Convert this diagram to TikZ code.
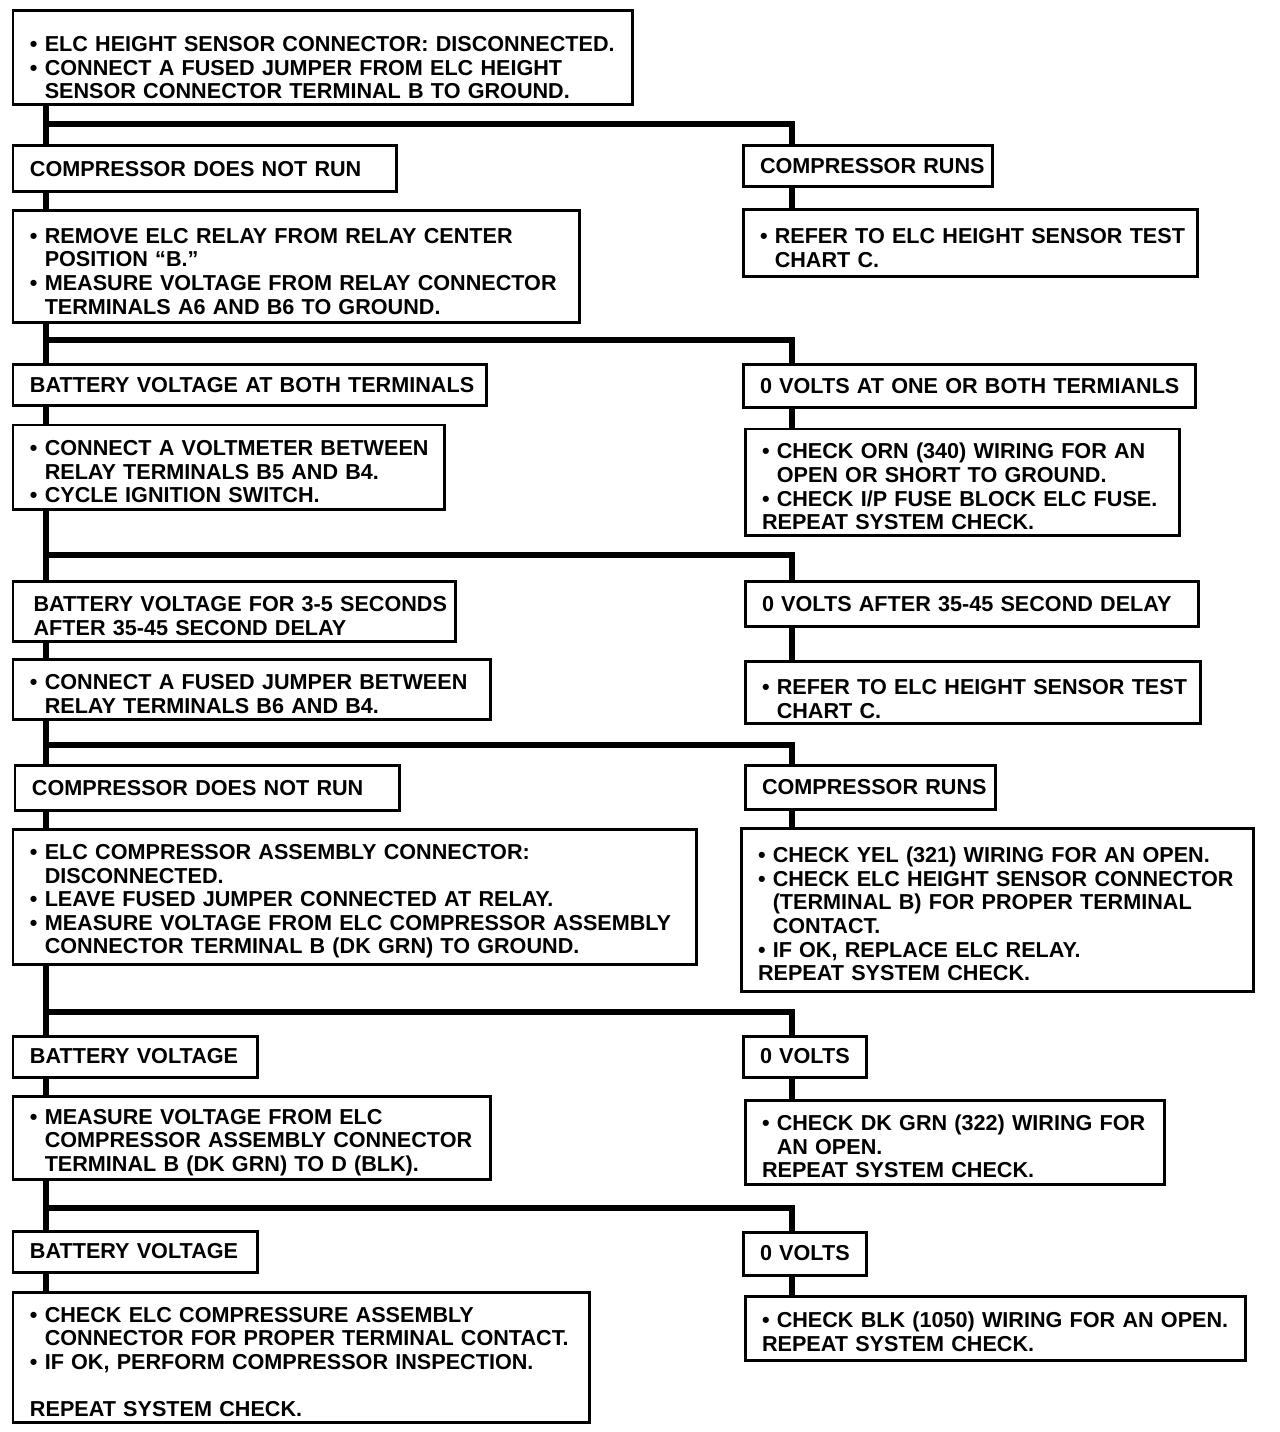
\documentclass[tikz,border=0pt]{standalone}
\usepackage{fontspec}
\setmainfont{Liberation Sans}
\newcommand{\bul}{\textbullet\ }
\newcommand{\bulind}{\hphantom{\textbullet\ }}
\newcommand{\topgap}{\rule{0pt}{13.5pt}}

\begin{document}
\begin{tikzpicture}[x=0.02cm, y=-0.02cm,
    box/.style 2 args={draw, line width=0.06cm, anchor=north west, align=left,
        inner xsep=0.34cm, inner ysep=0pt, text width=#1, minimum height=#2,
        font={\fontsize{12.3}{13.4}\selectfont\bfseries},
        execute at begin node={\rightskip=0pt minus 20cm}},
    wire/.style={line width=0.12cm}]

    \useasboundingbox (0,0) rectangle (1280,1432);

    % Left column
    \node[box={11.72cm}{1.88cm}] (b1) at (11.5,9.5)
        {\rule{0pt}{20pt}\bul ELC HEIGHT SENSOR CONNECTOR: DISCONNECTED.\\
         \bul CONNECT A FUSED JUMPER FROM ELC HEIGHT\\
         \bulind SENSOR CONNECTOR TERMINAL B TO GROUND.};
    \node[box={7.0cm}{0.92cm}] (b2l) at (11.5,144.5) {COMPRESSOR DOES NOT RUN};
    \node[box={10.66cm}{2.24cm}] (b3l) at (11.5,209.5)
        {\topgap\bul REMOVE ELC RELAY FROM RELAY CENTER\\
         \bulind POSITION ``B.''\\
         \bul MEASURE VOLTAGE FROM RELAY CONNECTOR\\
         \bulind TERMINALS A6 AND B6 TO GROUND.};
    \node[box={8.80cm}{0.82cm}] (b4l) at (11.5,363.5) {BATTERY VOLTAGE AT BOTH TERMINALS};
    \node[box={7.96cm}{1.70cm}] (b5l) at (11.5,423.5)
        {\topgap\bul CONNECT A VOLTMETER BETWEEN\\
         \bulind RELAY TERMINALS B5 AND B4.\\
         \bul CYCLE IGNITION SWITCH.};
    \node[box={8.18cm}{1.22cm}] (b6l) at (11.5,579.5)
        {\topgap\,BATTERY VOLTAGE FOR 3-5 SECONDS\\
         \,AFTER 35-45 SECOND DELAY};
    \node[box={8.88cm}{1.22cm}] (b7l) at (11.5,657.5)
        {\topgap\bul CONNECT A FUSED JUMPER BETWEEN\\
         \bulind RELAY TERMINALS B6 AND B4.};
    \node[box={7.02cm}{0.92cm}] (b8l) at (13.5,763.5) {COMPRESSOR DOES NOT RUN};
    \node[box={13.0cm}{2.72cm}] (b9l) at (11.5,827.5)
        {\topgap\bul ELC COMPRESSOR ASSEMBLY CONNECTOR:\\
         \bulind DISCONNECTED.\\
         \bul LEAVE FUSED JUMPER CONNECTED AT RELAY.\\
         \bul MEASURE VOLTAGE FROM ELC COMPRESSOR ASSEMBLY\\
         \bulind CONNECTOR TERMINAL B (DK GRN) TO GROUND.};
    \node[box={4.22cm}{0.82cm}] (b10l) at (11.5,1034.5) {BATTERY VOLTAGE};
    \node[box={8.88cm}{1.68cm}] (b11l) at (11.5,1094.5)
        {\topgap\bul MEASURE VOLTAGE FROM ELC\\
         \bulind COMPRESSOR ASSEMBLY CONNECTOR\\
         \bulind TERMINAL B (DK GRN) TO D (BLK).};
    \node[box={4.22cm}{0.82cm}] (b12l) at (11.5,1229.5) {BATTERY VOLTAGE};
    \node[box={10.86cm}{2.62cm}] (b13l) at (11.5,1290.5)
        {\topgap\bul CHECK ELC COMPRESSURE ASSEMBLY\\
         \bulind CONNECTOR FOR PROPER TERMINAL CONTACT.\\
         \bul IF OK, PERFORM COMPRESSOR INSPECTION.\\[13.4pt]
         REPEAT SYSTEM CHECK.};

    % Right column
    \node[box={4.32cm}{0.82cm}] (b2r) at (741.5,144.5) {COMPRESSOR RUNS};
    \node[box={8.42cm}{1.34cm}] (b3r) at (741.5,208.5)
        {\topgap\bul REFER TO ELC HEIGHT SENSOR TEST\\
         \bulind CHART C.};
    \node[box={8.38cm}{0.86cm}] (b4r) at (741.5,363.5) {0 VOLTS AT ONE OR BOTH TERMIANLS};
    \node[box={8.02cm}{2.14cm}] (b5r) at (743.5,427.5)
        {\topgap\bul CHECK ORN (340) WIRING FOR AN\\
         \bulind OPEN OR SHORT TO GROUND.\\
         \bul CHECK I/P FUSE BLOCK ELC FUSE.\\
         REPEAT SYSTEM CHECK.};
    \node[box={8.40cm}{0.92cm}] (b6r) at (743.5,579.5) {0 VOLTS AFTER 35-45 SECOND DELAY};
    \node[box={8.44cm}{1.26cm}] (b7r) at (743.5,659.5)
        {\rule{0pt}{16pt}\bul REFER TO ELC HEIGHT SENSOR TEST\\
         \bulind CHART C.};
    \node[box={4.34cm}{0.90cm}] (b8r) at (743.5,763.5) {COMPRESSOR RUNS};
    \node[box={9.58cm}{3.28cm}] (b9r) at (739.5,826.5)
        {\topgap\bul CHECK YEL (321) WIRING FOR AN OPEN.\\
         \bul CHECK ELC HEIGHT SENSOR CONNECTOR\\
         \bulind (TERMINAL B) FOR PROPER TERMINAL\\
         \bulind CONTACT.\\
         \bul IF OK, REPLACE ELC RELAY.\\
         REPEAT SYSTEM CHECK.};
    \node[box={1.80cm}{0.82cm}] (b10r) at (741.5,1034.5) {0 VOLTS};
    \node[box={7.72cm}{1.70cm}] (b11r) at (743.5,1098.5)
        {\topgap\bul CHECK DK GRN (322) WIRING FOR\\
         \bulind AN OPEN.\\
         REPEAT SYSTEM CHECK.};
    \node[box={1.80cm}{0.86cm}] (b12r) at (741.5,1230.5) {0 VOLTS};
    \node[box={9.34cm}{1.28cm}] (b13r) at (743.5,1294.5)
        {\topgap\bul CHECK BLK (1050) WIRING FOR AN OPEN.\\
         REPEAT SYSTEM CHECK.};

    % Connectors
    \coordinate (trunk) at (46,0);
    \coordinate (drop) at (792,0);
    \foreach \n/\y in {1/124, 2/340, 3/555, 4/745, 5/1012, 6/1208}
        \coordinate (s\n) at (46,\y);

    \foreach \a/\b in {b1/b2l, b2l/b3l, b3l/b4l, b4l/b5l, b5l/b6l, b6l/b7l,
                       b7l/b8l, b8l/b9l, b9l/b10l, b10l/b11l, b11l/b12l, b12l/b13l}
        \draw[wire] (\a.south -| trunk) -- (\b.north -| trunk);
    \foreach \a/\b in {b2r/b3r, b4r/b5r, b6r/b7r, b8r/b9r, b10r/b11r, b12r/b13r}
        \draw[wire] (\a.south -| drop) -- (\b.north -| drop);
    \foreach \s/\b in {s1/b2r, s2/b4r, s3/b6r, s4/b8r, s5/b10r, s6/b12r}
        \draw[wire] (\s) -| (\b.north -| drop);

\end{tikzpicture}
\end{document}
